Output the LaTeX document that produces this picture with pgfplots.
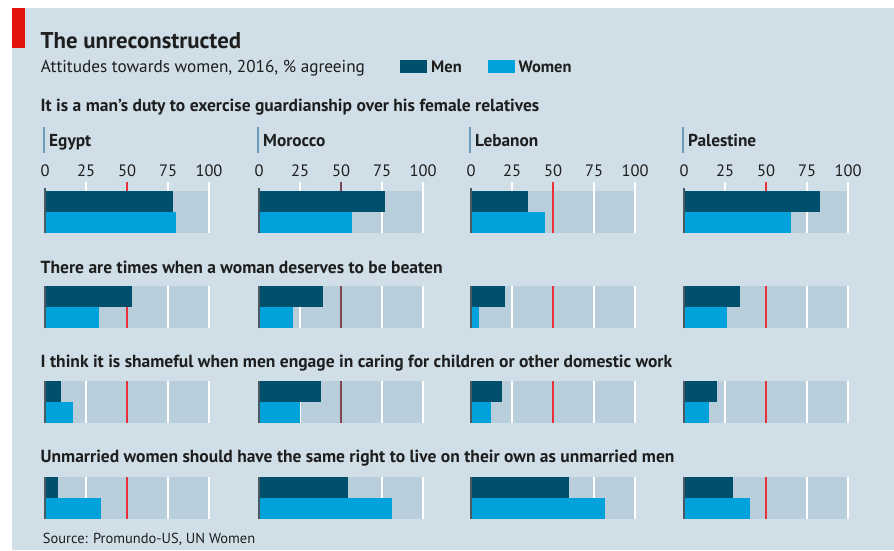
\documentclass[border=0pt]{standalone}
\usepackage{pgfplots}
\pgfplotsset{compat=1.18}
\usepackage{fontspec}
\setmainfont{PT Sans}
\definecolor{bgcol}{HTML}{CFDEE7}
\definecolor{gbar}{HTML}{B9CEDB}
\definecolor{men}{HTML}{004F6D}
\definecolor{women}{HTML}{00A2DC}
\definecolor{ered}{HTML}{E3120B}
\definecolor{redline}{HTML}{E8323A}
\definecolor{mredline}{HTML}{7E4654}
\definecolor{txt}{HTML}{1E1E1E}
\definecolor{cbar}{HTML}{6E9BB7}
\definecolor{zline}{HTML}{4A5A63}
% #1 x0, #2 bottom (px from top), #3 men, #4 women, #5 grid top, #6 1=Morocco style, #7 zero-line top
\newcommand\panel[7]{%
\begin{axis}[at={(#1pt,-#2pt)}, anchor=south west, width=164pt, height=42pt, scale only axis,
 xmin=0,xmax=100,ymin=0,ymax=2, hide axis, clip=false]
\fill[gbar] (axis cs:0,0) rectangle (axis cs:100,2);
\draw[white, line width=1.6pt] (axis cs:25,0) -- (axis cs:25,#5);
\draw[white, line width=1.6pt] (axis cs:75,0) -- (axis cs:75,#5);
\draw[white, line width=1.6pt] (axis cs:100,0) -- (axis cs:100,#5);
\ifnum#6=1
\fill[mredline] (axis cs:49.5,0) rectangle (axis cs:50.5,#5);
\else
\fill[redline] (axis cs:49.45,0) rectangle (axis cs:50.55,#5);
\fi
\addplot[xbar, bar width=1, bar shift=0pt, fill=men, draw=none] coordinates {(#3,1.5)};
\addplot[xbar, bar width=1, bar shift=0pt, fill=women, draw=none] coordinates {(#4,0.5)};
\draw[draw=zline, line width=1.2pt] (axis cs:0,0) -- (axis cs:0,#7);
\end{axis}}
\newcommand\ticklabs[1]{%
\foreach \v in {0,25,50,75,100}{%
\node[anchor=base, inner sep=0pt, font=\fontsize{16.5}{19}\selectfont, text=txt] at ({#1pt+\v*1.64pt},-176pt) {\v};}}
\newcommand\country[2]{%
\fill[cbar] ({#1pt-2.4pt},-126.7pt) rectangle (#1pt,-152.7pt);
\node[anchor=base west, inner sep=0pt, font=\bfseries\fontsize{17.3}{20}\selectfont, text=txt] at ({#1pt+4pt},-146.7pt) {#2};}
\newcommand\question[2]{%
\node[anchor=base west, inner sep=0pt, font=\bfseries\fontsize{17.5}{20}\selectfont, text=txt] at (40.5pt,-#1pt) {#2};}
\begin{document}
\begin{tikzpicture}
\fill[white] (0pt,0pt) rectangle (894pt,-550pt);
\fill[bgcol] (12pt,-8pt) rectangle (894pt,-550pt);
\fill[ered] (12pt,-8pt) rectangle (25pt,-48.3pt);
\node[anchor=base west, inner sep=0pt, font=\bfseries\fontsize{22.8}{26}\selectfont, text=txt] at (40.5pt,-48.3pt) {The unreconstructed};
\node[anchor=base west, inner sep=0pt, font=\fontsize{17.2}{20}\selectfont, text=txt] at (40.7pt,-72.7pt) {Attitudes towards women, 2016, \% agreeing};
\fill[men] (400pt,-60pt) rectangle (427pt,-73pt);
\node[anchor=base west, inner sep=0pt, font=\bfseries\fontsize{16.5}{19}\selectfont, text=txt] at (431pt,-72.5pt) {Men};
\fill[women] (487.5pt,-60pt) rectangle (515pt,-73pt);
\node[anchor=base west, inner sep=0pt, font=\bfseries\fontsize{16.5}{19}\selectfont, text=txt] at (518.5pt,-72.5pt) {Women};
\question{111}{It is a man’s duty to exercise guardianship over his female relatives}
\question{273}{There are times when a woman deserves to be beaten}
\question{367}{I think it is shameful when men engage in caring for children or other domestic work}
\question{462.5}{Unmarried women should have the same right to live on their own as unmarried men}
\node[anchor=base west, inner sep=0pt, font=\fontsize{14.5}{17}\selectfont, text=txt] at (42.7pt,-543.3pt) {Source: Promundo-US, UN Women};
\country{45}{Egypt}
\country{259}{Morocco}
\country{471}{Lebanon}
\country{684}{Palestine}
\ticklabs{45}
\ticklabs{259}
\ticklabs{471}
\ticklabs{684}
% Row 1: guardianship
\panel{45}{233}{78}{80}{2.43}{0}{2.14}
\panel{259}{233}{77}{57}{2.43}{1}{2.14}
\panel{471}{233}{35}{45}{2.43}{0}{2.14}
\panel{684}{233}{83}{65}{2.43}{0}{2.14}
% Row 2: beaten
\panel{45}{328}{53}{33}{2}{0}{2}
\panel{259}{328}{39}{21}{2}{1}{2}
\panel{471}{328}{21}{5}{2}{0}{2}
\panel{684}{328}{34}{26}{2}{0}{2}
% Row 3: shameful
\panel{45}{423}{10}{17}{2}{0}{2}
\panel{259}{423}{38}{25}{2}{1}{2}
\panel{471}{423}{19}{12}{2}{0}{2}
\panel{684}{423}{20}{15}{2}{0}{2}
% Row 4: unmarried
\panel{45}{519}{8}{34}{2}{0}{2}
\panel{259}{519}{54}{81}{2}{1}{2}
\panel{471}{519}{60}{82}{2}{0}{2}
\panel{684}{519}{30}{40}{2}{0}{2}
\end{tikzpicture}
\end{document}
